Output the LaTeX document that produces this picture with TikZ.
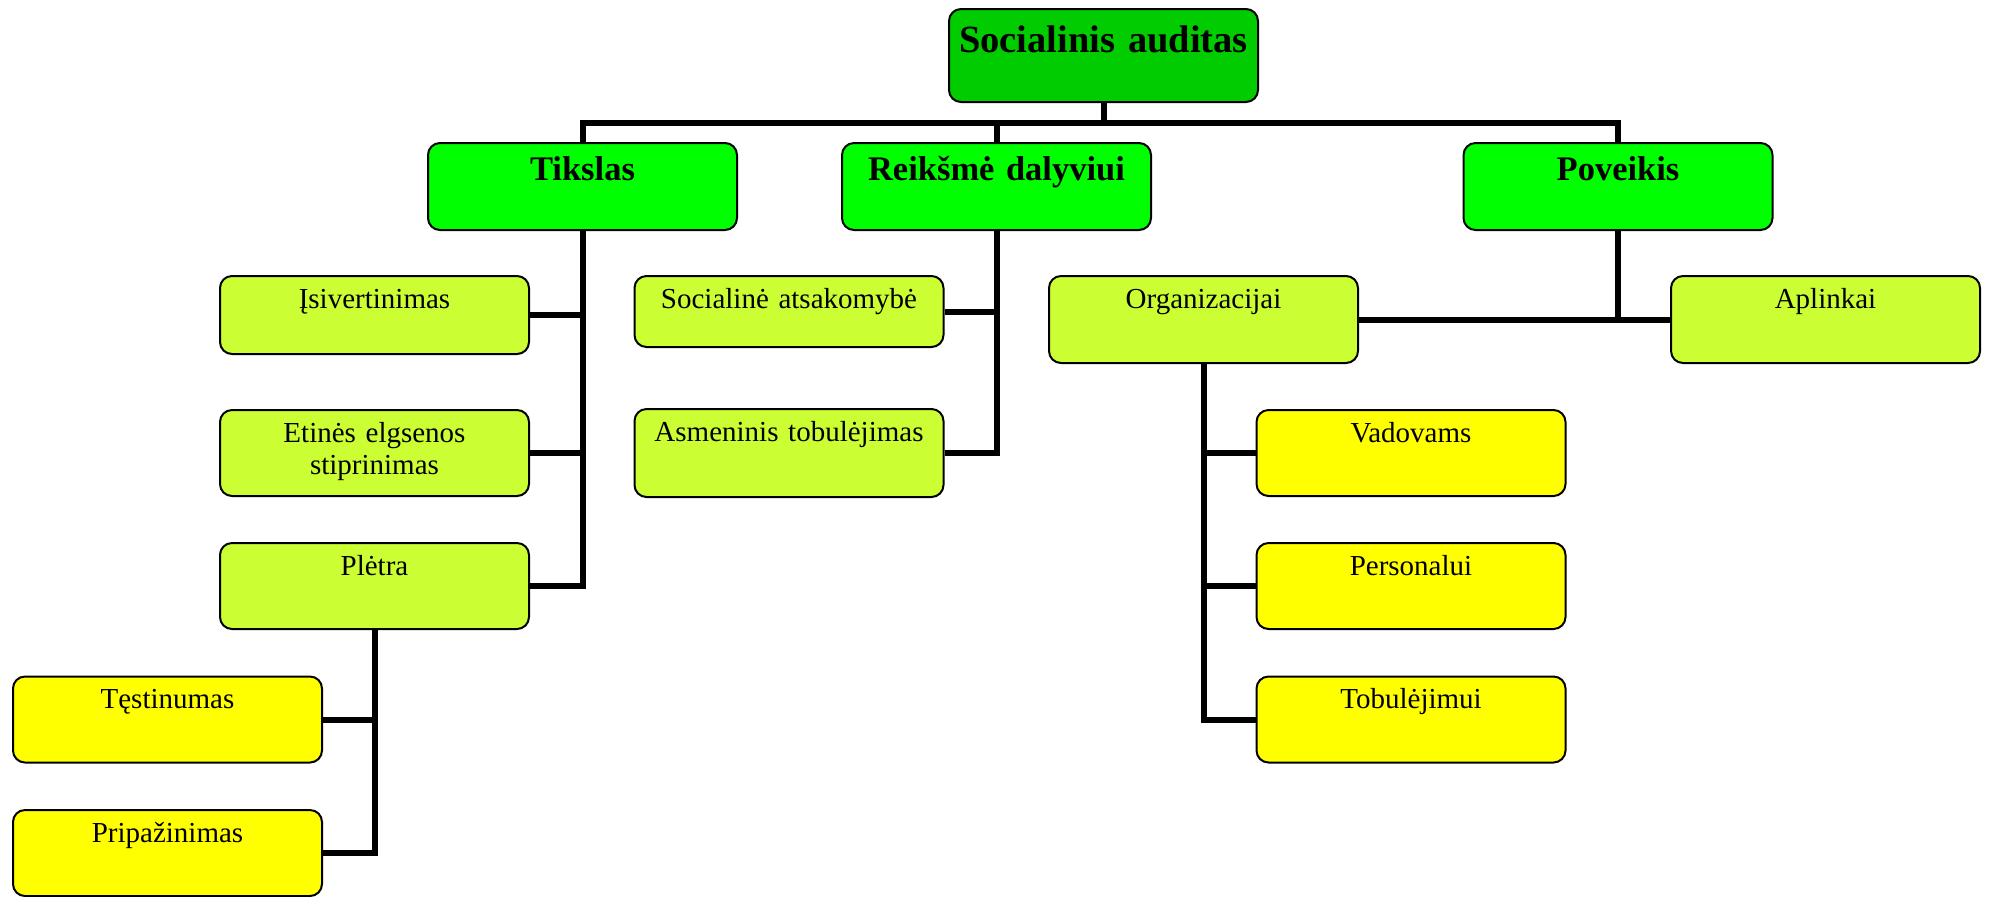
\documentclass[tikz,border=0pt]{standalone}
\usepackage{fontspec}
\setmainfont{Liberation Serif}

\definecolor{rootgreen}{HTML}{00CC00}
\definecolor{headgreen}{HTML}{00FF00}
\definecolor{midgreen}{HTML}{CCFF33}
\definecolor{leafyellow}{HTML}{FFFF00}

\newdimen\px \px=0.4pt

\begin{document}
\begin{tikzpicture}[x=0.4pt, y=-0.4pt,
  box/.style={draw, line width=2\px, rounded corners=12\px, minimum width=309\px,
    text width=280\px, align=center, inner sep=0pt,
    font=\fontsize{11.6}{12.8}\selectfont, text height=32\px, text depth=#1\px},
  box/.default=54,
  rootbox/.style={box=50, fill=rootgreen, text width=305\px,
    font=\bfseries\fontsize{15.4}{18}\selectfont, text height=43\px},
  headbox/.style={box=50, fill=headgreen, font=\bfseries\fontsize{13.8}{16}\selectfont, text height=37\px},
  midbox/.style={box=#1, fill=midgreen}, midbox/.default=54,
  leafbox/.style={box=#1, fill=leafyellow}, leafbox/.default=54,
  conn/.style={line width=6\px}]
 \useasboundingbox (0,0) rectangle (1990,896);

 % top and first level
 \node[rootbox] (audit) at (1103.5,55.5) {Socialinis auditas};
 \node[headbox] (tikslas) at (582.5,186.5) {Tikslas};
 \node[headbox] (reiksme) at (996.5,186.5) {Reikšmė dalyviui};
 \node[headbox] (poveikis) at (1618,186.5) {Poveikis};

 % second level
 \node[midbox=46] (isivert) at (374.5,315) {Įsivertinimas};
 \node[midbox] (etines) at (374.5,453) {Etinės elgsenos\\ stiprinimas};
 \node[midbox] (pletra) at (374.5,586) {Plėtra};
 \node[midbox=39] (social) at (789,311.5) {Socialinė atsakomybė};
 \node[midbox=56] (asmen) at (789,453) {Asmeninis tobulėjimas};
 \node[midbox=55] (org) at (1203.5,319.5) {Organizacijai};
 \node[midbox=55] (aplinkai) at (1825.5,319.5) {Aplinkai};

 % third level
 \node[leafbox] (testinumas) at (167.5,719.5) {Tęstinumas};
 \node[leafbox] (pripaz) at (167.5,853) {Pripažinimas};
 \node[leafbox] (vadovams) at (1411,453) {Vadovams};
 \node[leafbox] (personalui) at (1411,586) {Personalui};
 \node[leafbox] (tobulejimui) at (1411,719.5) {Tobulėjimui};

 \coordinate (bus) at (1103.5,123);
 \draw[conn] (audit.south) -- (bus);
 \draw[conn] (tikslas.north) |- (bus) -| (poveikis.north);
 \draw[conn] (reiksme.north) -- (reiksme.north |- bus);

 \foreach \n in {isivert,etines,pletra}
  \draw[conn] (tikslas.south) |- (\n.east);
 \foreach \n in {social,asmen}
  \draw[conn] (reiksme.south) |- (\n.east);
 \draw[conn] (org.east) -- (aplinkai.west);
 \draw[conn] (poveikis.south) -- (poveikis.south |- aplinkai.west);
 \foreach \n in {vadovams,personalui,tobulejimui}
  \draw[conn] (org.south) |- (\n.west);
 \foreach \n in {testinumas,pripaz}
  \draw[conn] (pletra.south) |- (\n.east);
\end{tikzpicture}
\end{document}
